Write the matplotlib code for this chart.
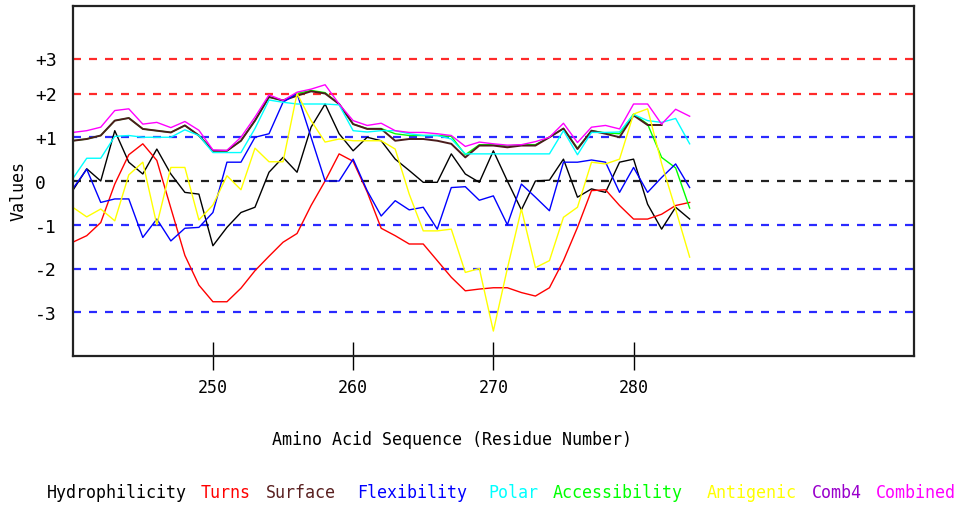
import numpy as np
import matplotlib
matplotlib.use('Agg')
from matplotlib import pyplot as plt

plt.rcParams['font.family'] = ['DejaVu Sans Mono']

# residue numbers
residues = list(range(240, 285))

hydrophilicity = [-0.22, 0.28, 0.0, 1.15, 0.43, 0.16, 0.73, 0.16, -0.26, -0.3,
                  -1.48, -1.06, -0.72, -0.6, 0.2, 0.54, 0.2, 1.23, 1.76, 1.08,
                  0.69, 1.0, 0.92, 0.5, 0.24, -0.03, -0.03, 0.62, 0.16, -0.03,
                  0.69, 0.0, -0.66, 0.0, 0.02, 0.5, -0.37, -0.18, -0.26, 0.43,
                  0.5, -0.53, -1.1, -0.6, -0.87]
turns = [-1.4, -1.25, -0.95, -0.07, 0.6, 0.85, 0.47, -0.62, -1.7, -2.38,
         -2.76, -2.76, -2.45, -2.05, -1.72, -1.4, -1.2, -0.56, 0.0, 0.62,
         0.45, -0.25, -1.08, -1.25, -1.44, -1.44, -1.82, -2.2, -2.51, -2.47,
         -2.44, -2.44, -2.55, -2.63, -2.44, -1.82, -1.06, -0.22, -0.2, -0.56,
         -0.87, -0.87, -0.76, -0.56, -0.49]
surface = [0.92, 0.96, 1.04, 1.38, 1.44, 1.19, 1.15, 1.11, 1.27, 1.04,
           0.69, 0.69, 0.92, 1.38, 1.92, 1.84, 1.95, 2.05, 2.0, 1.76,
           1.3, 1.19, 1.19, 0.92, 0.96, 0.96, 0.92, 0.85, 0.54, 0.81,
           0.81, 0.77, 0.81, 0.81, 1.0, 1.2, 0.73, 1.15, 1.08, 1.0,
           1.5, 1.28, 1.28]
flexibility = [-0.18, 0.27, -0.49, -0.41, -0.41, -1.29, -0.87, -1.37, -1.08, -1.06,
               -0.72, 0.43, 0.43, 1.0, 1.08, 1.8, 2.0, 1.0, 0.0, 0.0,
               0.5, -0.22, -0.8, -0.45, -0.66, -0.6, -1.1, -0.15, -0.13, -0.44,
               -0.34, -1.0, -0.07, -0.37, -0.68, 0.43, 0.43, 0.48, 0.43, -0.26,
               0.31, -0.26, 0.08, 0.39, -0.15]
polar = [0.05, 0.52, 0.52, 1.02, 1.04, 1.0, 1.0, 1.0, 1.17, 1.04,
         0.65, 0.65, 0.65, 1.2, 1.85, 1.8, 1.76, 1.76, 1.76, 1.74,
         1.15, 1.12, 1.15, 1.15, 1.08, 1.04, 1.04, 0.96, 0.62, 0.62,
         0.62, 0.62, 0.62, 0.62, 0.62, 1.15, 0.6, 1.11, 1.11, 1.12,
         1.52, 1.38, 1.34, 1.43, 0.85]
accessibility = [0.92, 0.96, 1.04, 1.38, 1.44, 1.19, 1.15, 1.11, 1.27, 1.04,
                 0.69, 0.69, 0.92, 1.38, 1.92, 1.84, 2.0, 2.07, 2.02, 1.76,
                 1.3, 1.2, 1.2, 1.08, 1.04, 1.04, 1.04, 1.02, 0.6, 0.83,
                 0.83, 0.8, 0.83, 0.83, 1.0, 1.2, 0.75, 1.15, 1.1, 1.08,
                 1.53, 1.3, 0.54, 0.3, -0.62]
antigenic = [-0.6, -0.82, -0.64, -0.91, 0.14, 0.43, -1.0, 0.31, 0.31, -0.89,
             -0.55, 0.12, -0.2, 0.75, 0.44, 0.44, 2.0, 1.38, 0.89, 0.96,
             0.92, 0.92, 0.92, 0.73, -0.3, -1.14, -1.14, -1.1, -2.09, -2.0,
             -3.43, -2.0, -0.64, -1.98, -1.82, -0.83, -0.6, 0.43, 0.39, 0.5,
             1.53, 1.65, 0.4, -0.65, -1.74]
combined = [1.11, 1.15, 1.23, 1.61, 1.65, 1.3, 1.34, 1.22, 1.36, 1.16,
            0.71, 0.7, 1.0, 1.46, 1.97, 1.84, 2.03, 2.1, 2.2, 1.76,
            1.38, 1.27, 1.32, 1.15, 1.11, 1.11, 1.08, 1.04, 0.79, 0.89,
            0.85, 0.82, 0.83, 0.9, 1.0, 1.32, 0.88, 1.23, 1.27, 1.19,
            1.76, 1.76, 1.3, 1.64, 1.48]

# threshold lines and their labels
ref_levels = [2.8, 2, 1, 0, -1, -2, -3]
ref_labels = ['+3', '+2', '+1', '0', '-1', '-2', '-3']
ref_colors = ['#ff2a2a', '#ff2a2a', '#2a2aff', '#222222', '#2a2aff', '#2a2aff', '#2a2aff']

legend_names = ['Hydrophilicity', 'Turns', 'Surface', 'Flexibility', 'Polar',
                'Accessibility', 'Antigenic', 'Comb4', 'Combined']
legend_colors = ['black', 'red', '#5a2020', 'blue', 'cyan', '#00ff00',
                 'yellow', '#9900cc', 'magenta']
legend_x = [47, 201, 266, 357, 488, 553, 707, 812, 876]

fig = plt.figure(figsize=(9.63, 5.10), dpi=100)
ax = fig.add_axes([72.7 / 963, 1 - 357 / 510, 841.3 / 963, 350 / 510])

for lvl, c in zip(ref_levels, ref_colors):
    ax.axhline(lvl, color=c, lw=1.6, dashes=(3.6, 3.6), zorder=1)

r = np.array(residues)
# accessibility goes down first so surface sits on top where they coincide
series = [(hydrophilicity, 'black', 1.0), (turns, 'red', 1.0),
          (accessibility, '#00ff00', 1.0), (surface, '#4a1c1c', 1.4),
          (flexibility, 'blue', 1.0), (polar, 'cyan', 1.0),
          (antigenic, 'yellow', 1.0), (combined, 'magenta', 1.0)]
for vals, c, w in series:
    ax.plot(r[:len(vals)], vals, color=c, lw=w, zorder=2)

ax.set_xlim(240, 300)
ax.set_ylim(-4, 4)
ax.set_xticks([250, 260, 270, 280])
ax.tick_params(axis='x', direction='inout', length=20, width=1, pad=6, labelsize=12)
ax.set_yticks(ref_levels)
ax.set_yticklabels(ref_labels)
ax.tick_params(axis='y', length=0, pad=27, labelsize=13)
for lab in ax.get_yticklabels():
    lab.set_horizontalalignment('left')
for sp in ax.spines.values():
    sp.set_linewidth(1.6)
    sp.set_color('#222222')

ax.set_xlabel('Amino Acid Sequence (Residue Number)', fontsize=12)
ax.xaxis.set_label_coords((452 - 72.7) / 841.3, -(440 - 357) / 350)
ax.xaxis.label.set_verticalalignment('center')
ax.set_ylabel('Values', fontsize=12)
ax.yaxis.set_label_coords(-(72.7 - 19) / 841.3, (357 - 191) / 350)
ax.yaxis.label.set_verticalalignment('center')

for name, c, x in zip(legend_names, legend_colors, legend_x):
    fig.text(x / 963, 1 - 493 / 510, name, color=c, fontsize=12, va='center', ha='left')

fig.savefig('out.png', dpi=100)
